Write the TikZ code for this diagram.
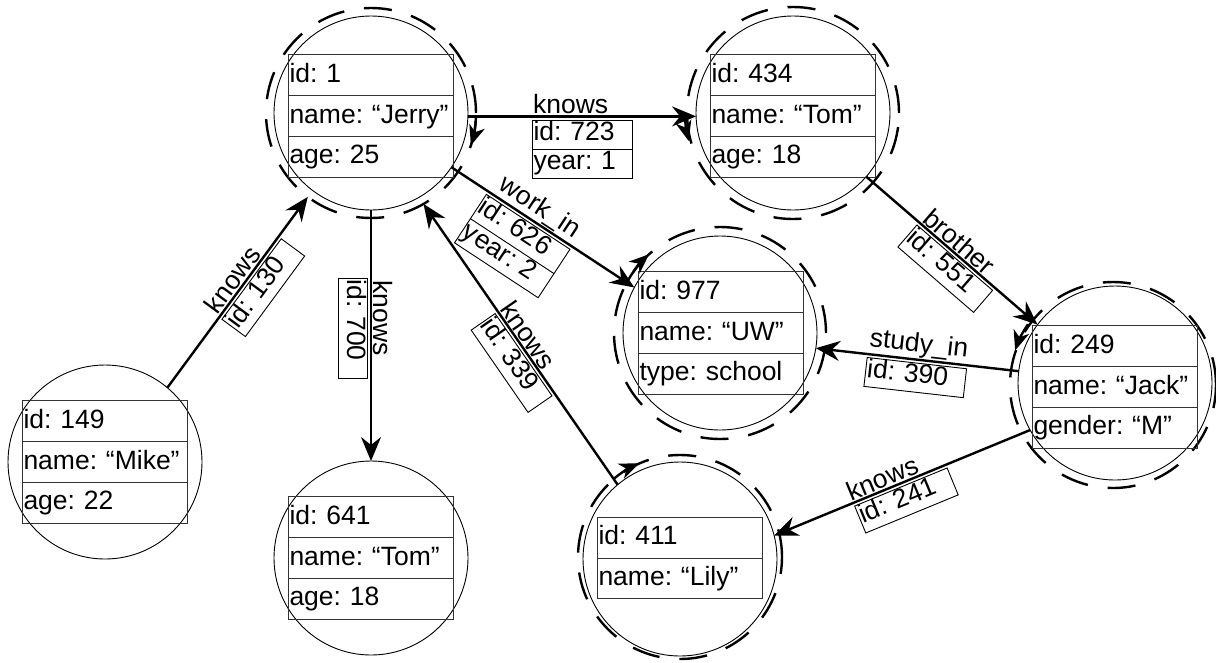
\documentclass[tikz,border=0pt]{standalone}
\usepackage{fontspec}
\setmainfont{Liberation Sans}
\usetikzlibrary{shapes.multipart,arrows.meta}

% row struts: property tables and edge-label tables
\newcommand\tstrut{\rule[-13pt]{0pt}{40pt}}
\newcommand\lstrut{\rule[-9pt]{0pt}{28pt}}

\begin{document}
\frenchspacing
\begin{tikzpicture}[x=1pt,y=-1pt,
  every node/.style={font=\fontsize{26.5}{31}\selectfont},
  vcirc/.style={circle, draw, line width=0.9pt, minimum size=194pt, inner sep=0pt, outer sep=0pt},
  dring/.style={circle, draw, line width=2.4pt, dash pattern=on 28pt off 20pt, minimum size=#1, inner sep=0pt, outer sep=0pt},
  rec/.style={rectangle split, rectangle split parts=#1, draw=black!80, line width=0.9pt,
    text width=163pt, inner xsep=1pt, inner ysep=0pt, align=left},
  elab/.style={inner sep=1pt},
  ebox/.style={rectangle split, rectangle split parts=#1, draw, line width=0.9pt,
    text width=97pt, inner xsep=1.5pt, inner ysep=0pt, align=left},
  link/.style={line width=2.4pt, -{Stealth[length=24pt,width=20pt,inset=8pt]}},
  rarr/.style={line width=2.4pt, -{Stealth[length=20pt,width=16pt,inset=6pt]}}
]
\useasboundingbox (0,0) rectangle (1216,662);

% vertices
\node[vcirc] (J) at (371,113) {};
\node[dring=210pt] (Jr) at (371,113) {};
\node[rec=3] (Jt) at (371,116) {\tstrut id: 1\nodepart{two}\tstrut name: “Jerry”\nodepart{three}\tstrut age: 25};

\node[vcirc] (T) at (793,113) {};
\node[dring=212pt] (Tr) at (793,113) {};
\node[rec=3] (Tt) at (793,116) {\tstrut id: 434\nodepart{two}\tstrut name: “Tom”\nodepart{three}\tstrut age: 18};

\node[vcirc] (U) at (720,333) {};
\node[dring=212pt] (Ur) at (720,333) {};
\node[rec=3] (Ut) at (721,333) {\tstrut id: 977\nodepart{two}\tstrut name: “UW”\nodepart{three}\tstrut type: school};

\node[vcirc] (K) at (1115,383) {};
\node[dring=206pt] (Kr) at (1113,385) {};
\node[rec=3] (Kt) at (1115,387) {\tstrut id: 249\nodepart{two}\tstrut name: “Jack”\nodepart{three}\tstrut gender: “M”};

\node[vcirc] (M) at (105,462) {};
\node[rec=3] (Mt) at (105,462) {\tstrut id: 149\nodepart{two}\tstrut name: “Mike”\nodepart{three}\tstrut age: 22};

\node[vcirc] (T2) at (371,558) {};
\node[rec=3] (T2t) at (371,558) {\tstrut id: 641\nodepart{two}\tstrut name: “Tom”\nodepart{three}\tstrut age: 18};

\node[vcirc] (L) at (680,559) {};
\node[dring=204pt] (Lr) at (680,557) {};
\node[rec=2] (Lt) at (680,558) {\tstrut id: 411\nodepart{two}\tstrut name: “Lily”};

% edges
\draw[link] (J.-2) -- node[elab, above, pos=0.45] {knows}
  node[ebox=2, below=4pt, pos=0.5] {\lstrut id: 723\nodepart{two}\lstrut year: 1} (T.182);

\draw[link] (M.50) -- node[elab, above, sloped, pos=0.53] {knows}
  node[ebox=1, below=3pt, sloped, pos=0.58] {\lstrut id: 130} (Jr.233);

\draw[link] (J.south) -- node[elab, above, sloped, pos=0.43] {knows}
  node[ebox=1, below=3pt, sloped, pos=0.47] {\lstrut id: 700} (T2.north);

\draw[link] (J.-34) -- node[elab, above, sloped, pos=0.44] {work\_in}
  node[ebox=2, below=3pt, sloped, pos=0.43] {\lstrut id: 626\nodepart{two}\lstrut year: 2} (U.152);

\draw[link] (T.-41) -- node[elab, above, sloped, pos=0.5] {brother}
  node[ebox=1, below=3pt, sloped, pos=0.53] {\lstrut id: 551} (K.143);

\draw[link] (K.173) -- node[elab, above, sloped, pos=0.5] {study\_in}
  node[ebox=1, below=3pt, sloped, pos=0.5] {\lstrut id: 390} (U.-9);

\draw[link] (K.209) -- node[elab, above, sloped, pos=0.56] {knows}
  node[ebox=1, below=3pt, sloped, pos=0.51] {\lstrut id: 241} (L.14);

\draw[link] (L.130) -- node[elab, above, sloped, pos=0.51] {knows}
  node[ebox=1, below=3pt, sloped, pos=0.47] {\lstrut id: 339} (Jr.-60);

% short arrows running along the dashed rings
\draw[rarr] (J.center) ++(2:105) arc[start angle=2, end angle=18, radius=105];
\draw[rarr] (T.center) ++(178:108) arc[start angle=178, end angle=165, radius=108];
\draw[rarr] (U.center) ++(210:106) arc[start angle=210, end angle=228, radius=106];
\draw[rarr] (K.center) ++(214:105) arc[start angle=214, end angle=198, radius=105];
\draw[rarr] (L.center) ++(230:104) arc[start angle=230, end angle=247, radius=104];
\end{tikzpicture}
\end{document}
